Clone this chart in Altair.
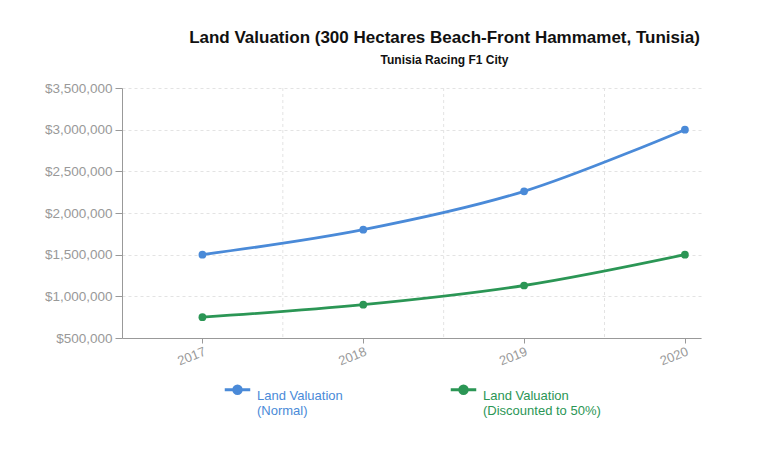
import altair as alt
import pandas as pd

years = [2017, 2018, 2019, 2020]
normal = [1500000, 1800000, 2260000, 3000000]
discounted = [750000, 900000, 1130000, 1500000]
series_names = ["Land Valuation|(Normal)", "Land Valuation|(Discounted to 50%)"]
series_colors = ["#4a8ad8", "#2b9655"]
grid_x = [2017.5, 2018.5, 2019.5]
y_ticks = [500000, 1000000, 1500000, 2000000, 2500000, 3000000, 3500000]

rows = []
for y, v in zip(years, normal):
    rows.append({"year": y, "value": v, "series": series_names[0]})
for y, v in zip(years, discounted):
    rows.append({"year": y, "value": v, "series": series_names[1]})
df = pd.DataFrame(rows)
gdf = pd.DataFrame({"g": grid_x})

xscale = alt.Scale(domain=[2016.5, 2020.1], nice=False, zero=False)
yscale = alt.Scale(domain=[500000, 3500000], nice=False, zero=False)

color_expr = (
    f"datum.label == '{series_names[0]}' ? '{series_colors[0]}' : '{series_colors[1]}'"
)

grid = alt.Chart(gdf).mark_rule(color="#e3e3e3", strokeDash=[3, 3], strokeWidth=1).encode(
    x=alt.X("g:Q", scale=xscale)
)

lines = alt.Chart(df).mark_line(
    interpolate="cardinal", tension=0, strokeWidth=2.8,
    point=alt.OverlayMarkDef(filled=True, size=60, opacity=1),
).encode(
    x=alt.X(
        "year:Q", scale=xscale, title=None,
        axis=alt.Axis(
            values=years, format="d", grid=False, labelAngle=-22,
            labelAlign="right", labelBaseline="top", labelColor="#999999",
            labelFontSize=13, labelFont="Liberation Sans", labelPadding=2,
            domainColor="#999999", tickColor="#999999", tickSize=5,
        ),
    ),
    y=alt.Y(
        "value:Q", scale=yscale, title=None,
        axis=alt.Axis(
            values=y_ticks, format="$,.0f", gridDash=[3, 3], gridColor="#e3e3e3",
            labelColor="#999999", labelFontSize=13.5, labelFont="Liberation Sans",
            domainColor="#999999", tickColor="#999999", tickSize=7, labelPadding=3,
        ),
    ),
    color=alt.Color(
        "series:N",
        scale=alt.Scale(domain=series_names, range=series_colors),
        legend=alt.Legend(
            title=None, orient="none", legendX=101, legendY=287, direction="horizontal",
            columns=2, columnPadding=102,
            labelExpr="split(datum.label, '|')",
            labelColor=alt.ExprRef(color_expr),
            labelFont="Liberation Sans", labelFontSize=13, labelBaseline="top",
            labelOffset=5, labelLimit=300,
            symbolType="M-1,0L1,0M-0.3,0A0.3,0.3 0 1,0 0.3,0A0.3,0.3 0 1,0 -0.3,0",
            symbolSize=650, symbolStrokeWidth=2.8,
        ),
    ),
)

chart = alt.layer(grid, lines).properties(
    width=579, height=250,
    autosize=alt.AutoSizeParams(type="none"),
    padding={"left": 114, "top": 80, "right": 68, "bottom": 95},
    title=alt.TitleParams(
        text="Land Valuation (300 Hectares Beach-Front Hammamet, Tunisia)",
        subtitle="Tunisia Racing F1 City",
        anchor="middle", dx=33, offset=14,
        font="Liberation Sans", fontSize=17, fontWeight="bold", color="#111111",
        subtitleFont="Liberation Sans", subtitleFontSize=12, subtitleFontWeight="bold",
        subtitleColor="#111111", subtitlePadding=8,
    ),
).configure_view(stroke=None)

chart.save("out.html", embed_options={"renderer": "svg", "actions": False})
